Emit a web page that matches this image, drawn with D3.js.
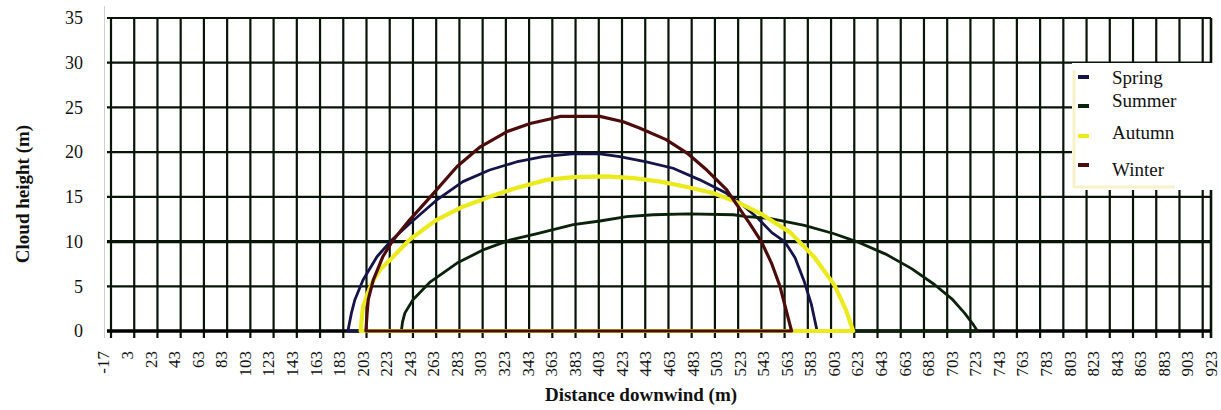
<!DOCTYPE html>
<html><head><meta charset="utf-8">
<script src="https://cdn.jsdelivr.net/npm/d3@7/dist/d3.min.js"></script>
<style>body{margin:0;background:#fff}svg{display:block}</style>
</head><body><svg id="c" width="1221" height="410"></svg>
<script>
// ---- data ----
const xLabels = [-17,3,23,43,63,83,103,123,143,163,183,203,223,243,263,283,303,323,343,363,383,403,423,443,463,483,503,523,543,563,583,603,623,643,663,683,703,723,743,763,783,803,823,843,863,883,903,923];
const yTicks = [0,5,10,15,20,25,30,35];
const seasons = ["Spring","Summer","Autumn","Winter"];
const springX = [187,190,193,200,212,225,240,263,286,309,332,355,380,404,421,444,467,490,513,525,540,552,563,572,580,586,589,591];
const springH = [0,2,3.5,5.7,8.3,10.2,12.0,14.6,16.7,18.0,18.9,19.5,19.8,19.8,19.5,18.9,18.2,16.9,15.4,14.3,12.6,11,10,8.2,5.5,3,1.2,0];
const summerX = [233,234,236,243,258,281,304,327,350,381,404,427,450,480,519,530,550,580,605,625,650,672,692,707,718,725,729];
const summerH = [0,1,2,3.5,5.5,7.6,9.1,10.2,10.9,11.9,12.3,12.8,13.0,13.1,13.0,12.8,12.6,11.8,10.9,10.0,8.6,7.0,5.2,3.6,2.0,0.8,0];
const autumnX = [198,199,200,204,209,215,223,240,263,286,309,332,358,381,410,433,456,479,502,524,544,568,589,606,616,622];
const autumnH = [0,1.5,2.7,4.2,5.7,6.9,7.9,10.2,12.4,13.9,15.0,16.0,16.9,17.2,17.3,17.1,16.7,16.1,15.4,14.3,13,11,8.2,5.1,2.3,0];
const winterX = [202.5,203.5,204.5,208.8,217,225,240,258,281,301,324,344,361,370,404,424,438,461,479,496,513,533,543,552,559,564,567,569];
const winterH = [0,2,3.5,5.7,8.3,10,12.4,15.0,18.4,20.6,22.3,23.2,23.7,24.0,24.0,23.4,22.7,21.4,19.9,18.0,15.8,12.0,10,7.5,5,2.5,1,0];

// ---- styles ----
const colors = {Spring:"#141448", Summer:"#0a220a", Autumn:"#eaea1c", Winter:"#4c0c0c"};
const widths = {Spring:2.8, Summer:2.8, Autumn:4.2, Winter:3.2};
const serif = "'Liberation Serif','Times New Roman',serif";

const svg = d3.select("#c");
const pLeft = 111, pRight = 1211, pTop = 18, pBottom = 331;
const x = d3.scaleLinear().domain([-17, 923]).range([pLeft, 1202.7]);
const xl = d3.scalePoint().domain(xLabels).range([103.5, 1211]);
const y = d3.scaleLinear().domain([0, 35]).range([pBottom, pTop]);

// faint axis line
svg.append("line").attr("x1",104.5).attr("x2",104.5).attr("y1",6).attr("y2",338)
  .attr("stroke","#cfcfcf").attr("stroke-width",1);

const grid = svg.append("g");
const gridCol = "#071407";
grid.selectAll("line.v").data(xLabels).join("line")
  .attr("x1",d=>x(d)).attr("x2",d=>x(d)).attr("y1",pTop).attr("y2",338)
  .attr("stroke",gridCol).attr("stroke-width",2.2);
grid.append("line").attr("x1",pRight).attr("x2",pRight).attr("y1",pTop).attr("y2",338)
  .attr("stroke",gridCol).attr("stroke-width",2.6);
grid.selectAll("line.h").data(yTicks).join("line")
  .attr("x1",107).attr("x2",pRight).attr("y1",d=>y(d)).attr("y2",d=>y(d))
  .attr("stroke",d=>d===0?"#000":gridCol).attr("stroke-width",d=>d===0?3.4:(d===10?3.2:2.2));

// y tick labels
svg.append("g").selectAll("text").data(yTicks).join("text")
  .attr("x",83).attr("y",d=>y(d)).attr("dy","0.35em").attr("text-anchor","end")
  .attr("font-family",serif).attr("font-size",18).attr("fill","#111").text(d=>d);

// x tick labels
svg.append("g").selectAll("text").data(xLabels).join("text")
  .attr("transform",d=>`translate(${xl(d)},351) rotate(-90)`)
  .attr("dy","0.35em").attr("text-anchor","end")
  .attr("font-family",serif).attr("font-size",17).attr("fill","#111").text(d=>d);

// axis titles
svg.append("text").attr("x",641).attr("y",401).attr("text-anchor","middle")
  .attr("font-family",serif).attr("font-weight","bold").attr("font-size",19).attr("fill","#111")
  .text("Distance downwind (m)");
svg.append("text").attr("transform","translate(22,194) rotate(-90)").attr("dy","0.35em")
  .attr("text-anchor","middle").attr("font-family",serif).attr("font-weight","bold")
  .attr("font-size",19).attr("fill","#111").text("Cloud height (m)");

// curves
const seriesData = {
  Spring: d3.zip(springX, springH),
  Summer: d3.zip(summerX, summerH),
  Autumn: d3.zip(autumnX, autumnH),
  Winter: d3.zip(winterX, winterH)
};
const line = d3.line().x(d=>x(d[0])).y(d=>y(d[1]));
seasons.forEach(s => {
  const pts = seriesData[s];
  svg.append("path").datum(pts.concat([pts[0]]))
    .attr("d", line).attr("fill","none").attr("stroke",colors[s])
    .attr("stroke-width",widths[s]).attr("stroke-linejoin","round").attr("stroke-linecap","round");
});

// legend
const lg = svg.append("g");
lg.append("rect").attr("x",1072).attr("y",63).attr("width",142).attr("height",127).attr("fill","#fff");
lg.append("line").attr("x1",1074).attr("x2",1074).attr("y1",70).attr("y2",188).attr("stroke","#f6f3c8").attr("stroke-width",3);
lg.append("line").attr("x1",1074).attr("x2",1175).attr("y1",187).attr("y2",187).attr("stroke","#f6f3c8").attr("stroke-width",3);
const markY = [77,106,136,165];
const textY = [84,107,139,176];
lg.selectAll("line.m").data(seasons).join("line")
  .attr("x1",1078).attr("x2",1089).attr("y1",(d,i)=>markY[i]).attr("y2",(d,i)=>markY[i])
  .attr("stroke",d=>colors[d]).attr("stroke-width",4);
lg.selectAll("text").data(seasons).join("text")
  .attr("x",1112).attr("y",(d,i)=>textY[i]).attr("font-family",serif).attr("font-size",19)
  .attr("fill","#111").text(d=>d);
</script></body></html>
